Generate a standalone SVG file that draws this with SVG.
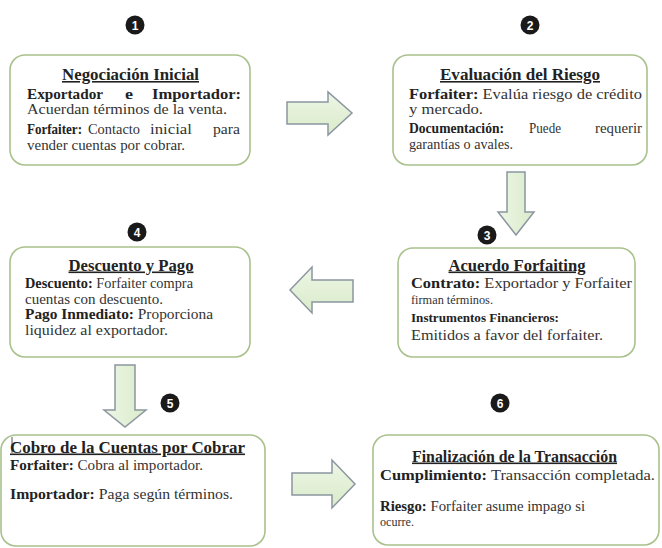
<svg xmlns="http://www.w3.org/2000/svg" width="662" height="548" viewBox="0 0 662 548">
<defs>
<linearGradient id="ag" x1="0" y1="0" x2="0" y2="1">
<stop offset="0" stop-color="#eef6e6"/>
<stop offset="1" stop-color="#d9ebc9"/>
</linearGradient>
<linearGradient id="agv" x1="0" y1="0" x2="1" y2="0">
<stop offset="0" stop-color="#eef6e6"/>
<stop offset="1" stop-color="#d9ebc9"/>
</linearGradient>
</defs>
<style>
.box{fill:#ffffff;stroke:#a9c18c;stroke-width:1.6}
.arr{fill:url(#ag);stroke:#8b96a0;stroke-width:1.5;stroke-linejoin:miter}
.arrv{fill:url(#agv);stroke:#8b96a0;stroke-width:1.5}
.badge{fill:#1a1a1a}
.num{font-family:"Liberation Sans",Arial,sans-serif;font-size:12px;font-weight:bold;fill:#ffffff;text-anchor:middle}
text{font-family:"Liberation Serif","Times New Roman",serif;font-size:15px;fill:#333333}
.t{font-size:16px;font-weight:bold;text-decoration:underline;text-anchor:middle;fill:#222222}
.b{font-weight:bold;fill:#222222}
</style>
<rect width="662" height="548" fill="#ffffff"/>

<g id="connectors">
<polygon class="arr" points="287,102 328,102 328,92 352,113 328,135 328,124 287,124"/>
<polygon class="arrv" points="507,172 525,172 525,212 534,212 516,235 498,212 507,212"/>
<polygon class="arr" points="353,280 312,280 312,267 290,290 312,313 312,302 353,302"/>
<polygon class="arrv" points="115,365 135,365 135,410 146,410 125,427 104,410 115,410"/>
<polygon class="arr" points="292,473 332,473 332,460 355,484 332,508 332,495 292,495"/>
</g>

<g id="node1">
<circle class="badge" cx="135" cy="25" r="9.5"/>
<text class="num" x="135" y="29.5">1</text>
<rect class="box" x="10" y="55" width="240" height="110" rx="15"/>
<text class="t" x="130.5" y="80" textLength="137" lengthAdjust="spacingAndGlyphs">Negociación Inicial</text>
<text class="b" x="27" y="98.5" textLength="76" lengthAdjust="spacingAndGlyphs" style="font-size:14.5px">Exportador</text>
<text class="b" x="125" y="98.5" textLength="8" lengthAdjust="spacingAndGlyphs" style="font-size:14.5px">e</text>
<text class="b" x="152" y="98.5" textLength="89" lengthAdjust="spacingAndGlyphs" style="font-size:14.5px">Importador:</text>
<text x="27" y="113.5" textLength="200" lengthAdjust="spacingAndGlyphs" style="font-size:15.5px">Acuerdan términos de la venta.</text>
<text class="b" x="27" y="134" textLength="55" lengthAdjust="spacingAndGlyphs" style="font-size:14px">Forfaiter:</text>
<text x="88" y="134" textLength="52" lengthAdjust="spacingAndGlyphs">Contacto</text>
<text x="150" y="134" textLength="42" lengthAdjust="spacingAndGlyphs">inicial</text>
<text x="213" y="134" textLength="27" lengthAdjust="spacingAndGlyphs">para</text>
<text x="27" y="150" textLength="158" lengthAdjust="spacingAndGlyphs">vender cuentas por cobrar.</text>
</g>

<g id="node2">
<circle class="badge" cx="530" cy="25" r="9.5"/>
<text class="num" x="530" y="29.5">2</text>
<rect class="box" x="393" y="55" width="254" height="110" rx="15"/>
<text class="t" x="520" y="80" textLength="160" lengthAdjust="spacingAndGlyphs">Evaluación del Riesgo</text>
<text x="409" y="98.5" textLength="233" lengthAdjust="spacingAndGlyphs" style="font-size:15px"><tspan class="b">Forfaiter:</tspan> Evalúa riesgo de crédito</text>
<text x="409" y="113.5" textLength="74" lengthAdjust="spacingAndGlyphs" style="font-size:15.5px">y mercado.</text>
<text class="b" x="409" y="133" textLength="95" lengthAdjust="spacingAndGlyphs" style="font-size:14px">Documentación:</text>
<text x="529" y="133" textLength="32" lengthAdjust="spacingAndGlyphs" style="font-size:14px">Puede</text>
<text x="595" y="133" textLength="47" lengthAdjust="spacingAndGlyphs" style="font-size:14px">requerir</text>
<text x="409" y="149" textLength="104" lengthAdjust="spacingAndGlyphs" style="font-size:14px">garantías o avales.</text>
</g>

<g id="node3">
<circle class="badge" cx="487" cy="235" r="9.5"/>
<text class="num" x="487" y="239.5">3</text>
<rect class="box" x="398" y="248" width="237" height="109" rx="15"/>
<text class="t" x="517" y="270.5" textLength="137" lengthAdjust="spacingAndGlyphs">Acuerdo Forfaiting</text>
<text x="411" y="288" textLength="221" lengthAdjust="spacingAndGlyphs" style="font-size:15px"><tspan class="b">Contrato:</tspan> Exportador y Forfaiter</text>
<text x="411" y="304" textLength="82" lengthAdjust="spacingAndGlyphs" style="font-size:12.5px">firman términos.</text>
<text class="b" x="411" y="322" textLength="148" lengthAdjust="spacingAndGlyphs" style="font-size:13.5px">Instrumentos Financieros:</text>
<text x="411" y="340" textLength="192" lengthAdjust="spacingAndGlyphs" style="font-size:15.5px">Emitidos a favor del forfaiter.</text>
</g>

<g id="node4">
<circle class="badge" cx="137" cy="232" r="9.5"/>
<text class="num" x="137" y="236.5">4</text>
<rect class="box" x="10" y="247" width="240" height="110" rx="15"/>
<text class="t" x="131" y="270.5" textLength="125" lengthAdjust="spacingAndGlyphs">Descuento y Pago</text>
<text x="25" y="288" textLength="168" lengthAdjust="spacingAndGlyphs" style="font-size:14.5px"><tspan class="b">Descuento:</tspan> Forfaiter compra</text>
<text x="25" y="303.5" textLength="138" lengthAdjust="spacingAndGlyphs" style="font-size:14.5px">cuentas con descuento.</text>
<text x="25" y="319" textLength="188" lengthAdjust="spacingAndGlyphs"><tspan class="b">Pago Inmediato:</tspan> Proporciona</text>
<text x="25" y="334.5" textLength="143" lengthAdjust="spacingAndGlyphs">liquidez al exportador.</text>
</g>

<g id="node5">
<circle class="badge" cx="170" cy="403" r="9.5"/>
<text class="num" x="170" y="407.5">5</text>
<rect class="box" x="1" y="435" width="264" height="111" rx="15"/>
<line x1="12" y1="437" x2="12" y2="453" stroke="#555555" stroke-width="1"/>
<text class="t" x="127.5" y="452.5" textLength="235" lengthAdjust="spacingAndGlyphs">Cobro de la Cuentas por Cobrar</text>
<text x="10" y="470" textLength="193" lengthAdjust="spacingAndGlyphs"><tspan class="b">Forfaiter:</tspan> Cobra al importador.</text>
<text x="10" y="499" textLength="223" lengthAdjust="spacingAndGlyphs" style="font-size:15.5px"><tspan class="b">Importador:</tspan> Paga según términos.</text>
</g>

<g id="node6">
<circle class="badge" cx="500" cy="403" r="9.5"/>
<text class="num" x="500" y="407.5">6</text>
<rect class="box" x="373" y="435" width="286" height="110" rx="15"/>
<text class="t" x="514.5" y="461.5" textLength="205" lengthAdjust="spacingAndGlyphs">Finalización de la Transacción</text>
<text x="380" y="480" textLength="275" lengthAdjust="spacingAndGlyphs" style="font-size:15.5px"><tspan class="b">Cumplimiento:</tspan> Transacción completada.</text>
<text x="380" y="511" textLength="205" lengthAdjust="spacingAndGlyphs" style="font-size:14.5px"><tspan class="b">Riesgo:</tspan> Forfaiter asume impago si</text>
<text x="380" y="526" textLength="34" lengthAdjust="spacingAndGlyphs" style="font-size:12.5px">ocurre.</text>
</g>
</svg>
